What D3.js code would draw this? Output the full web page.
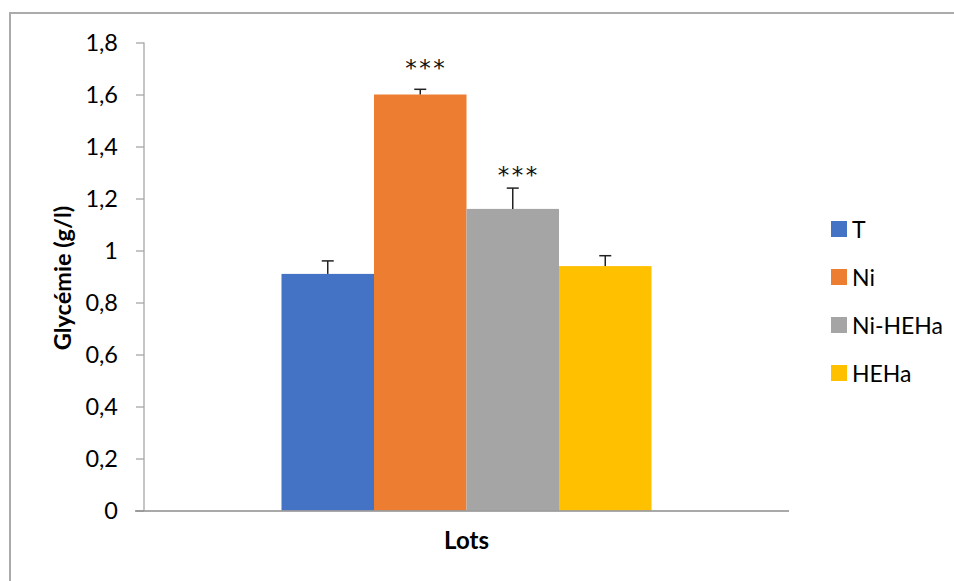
<!DOCTYPE html>
<html>
<head>
<meta charset="utf-8">
<script src="https://cdn.jsdelivr.net/npm/d3@7"></script>
<style>
  html, body { margin: 0; padding: 0; background: #fff; }
  svg { display: block; font-family: Lato, "Open Sans", sans-serif; }
</style>
</head>
<body>
<svg id="chart" width="954" height="581"></svg>
<script>
// ---- data ----
const category = ["Lots"];
const series = ["T", "Ni", "Ni-HEHa", "HEHa"];
const values = [0.91, 1.60, 1.16, 0.94];
const errors = [0.05, 0.02, 0.08, 0.04];
const colors = ["#4472C4", "#ED7D31", "#A5A5A5", "#FFC000"];
const yTicks = [0, 0.2, 0.4, 0.6, 0.8, 1, 1.2, 1.4, 1.6, 1.8];
// significance labels placed at a value (g/l) on the y axis
const sigSeries = ["Ni", "Ni-HEHa"];
const sigLabels = ["***", "***"];
const sigAt = [1.723, 1.308];

// ---- layout ----
const svg = d3.select("#chart");
const W = 954, H = 581;
const plot = { left: 144, right: 789, top: 42.5, bottom: 510.5 };

// chart border (cropped on right and bottom)
svg.append("rect")
  .attr("x", 10).attr("y", 13).attr("width", W + 20).attr("height", H + 20)
  .attr("fill", "#fff").attr("stroke", "#ababab").attr("stroke-width", 2);

const y = d3.scaleLinear().domain([0, 1.8]).range([plot.bottom, plot.top]);
const x0 = d3.scaleBand().domain(category).range([plot.left, plot.right])
  .paddingInner(0).paddingOuter(0.3716);
const x1 = d3.scaleBand().domain(series).range([0, x0.bandwidth()]).padding(0);

// y axis
const yAxis = d3.axisLeft(y).tickValues(yTicks)
  .tickFormat(d => d3.format("~g")(d).replace(".", ","))
  .tickSize(8).tickPadding(18);
const gy = svg.append("g").attr("transform", `translate(${plot.left},0)`).call(yAxis);
gy.select(".domain").attr("stroke", "#a6a6a6").attr("stroke-width", 1.3)
  .attr("d", `M0,${plot.top}V${plot.bottom}`);
gy.selectAll(".tick line").attr("stroke", "#a6a6a6").attr("stroke-width", 1.3);
gy.selectAll(".tick text").attr("fill", "#000").style("font-size", "23.5px")
  .style("font-family", "Lato, 'Open Sans', sans-serif");

// bars
const g = svg.append("g");
const bars = g.selectAll("g.cat").data(category).join("g")
  .attr("transform", d => `translate(${x0(d)},0)`);
bars.selectAll("rect").data(series.map((s, i) => ({ s, v: values[i], e: errors[i], c: colors[i] })))
  .join("rect")
  .attr("x", d => x1(d.s)).attr("width", x1.bandwidth())
  .attr("y", d => y(d.v)).attr("height", d => y(0) - y(d.v))
  .attr("fill", d => d.c);

// error bars (upper only)
const eb = bars.selectAll("g.err").data(series.map((s, i) => ({ s, v: values[i], e: errors[i] })))
  .join("g").attr("class", "err")
  .attr("transform", d => `translate(${x1(d.s) + x1.bandwidth() / 2},0)`);
eb.append("line").attr("x1", 0).attr("x2", 0)
  .attr("y1", d => y(d.v)).attr("y2", d => y(d.v + d.e))
  .attr("stroke", "#222").attr("stroke-width", 1.5);
eb.append("line").attr("x1", -6).attr("x2", 6)
  .attr("y1", d => y(d.v + d.e)).attr("y2", d => y(d.v + d.e))
  .attr("stroke", "#222").attr("stroke-width", 1.5);

// x axis baseline
svg.append("line")
  .attr("x1", plot.left - 9).attr("x2", plot.right)
  .attr("y1", plot.bottom + 0.5).attr("y2", plot.bottom + 0.5)
  .attr("stroke", "#8c8c8c").attr("stroke-width", 1.5);

// significance stars
sigSeries.forEach((s, i) => {
  bars.append("text")
    .attr("x", x1(s) + x1.bandwidth() / 2 + 6)
    .attr("y", y(sigAt[i]) + 13)
    .attr("text-anchor", "middle")
    .attr("fill", "#111")
    .style("font-family", "'DejaVu Sans', sans-serif")
    .style("font-size", "23px")
    .style("letter-spacing", "2.5px")
    .text(sigLabels[i]);
});

// axis titles
svg.append("text")
  .attr("x", (plot.left + plot.right) / 2).attr("y", 549)
  .attr("text-anchor", "middle").attr("font-weight", "bold")
  .style("font-size", "24px").attr("fill", "#000")
  .text(category[0]);

svg.append("text")
  .attr("transform", `translate(71,${278}) rotate(-90)`)
  .attr("text-anchor", "middle").attr("font-weight", "bold")
  .style("font-size", "23.5px").attr("fill", "#000")
  .text("Glycémie (g/l)");

// legend
const legend = svg.append("g");
const legendY = d3.scalePoint().domain(series).range([229, 373]);
series.forEach((s, i) => {
  legend.append("rect")
    .attr("x", 831).attr("y", legendY(s) - 8)
    .attr("width", 16).attr("height", 16).attr("fill", colors[i]);
  legend.append("text")
    .attr("x", 852).attr("y", legendY(s) + 8.5)
    .attr("fill", "#000").style("font-size", "23px")
    .text(s);
});
</script>
</body>
</html>
